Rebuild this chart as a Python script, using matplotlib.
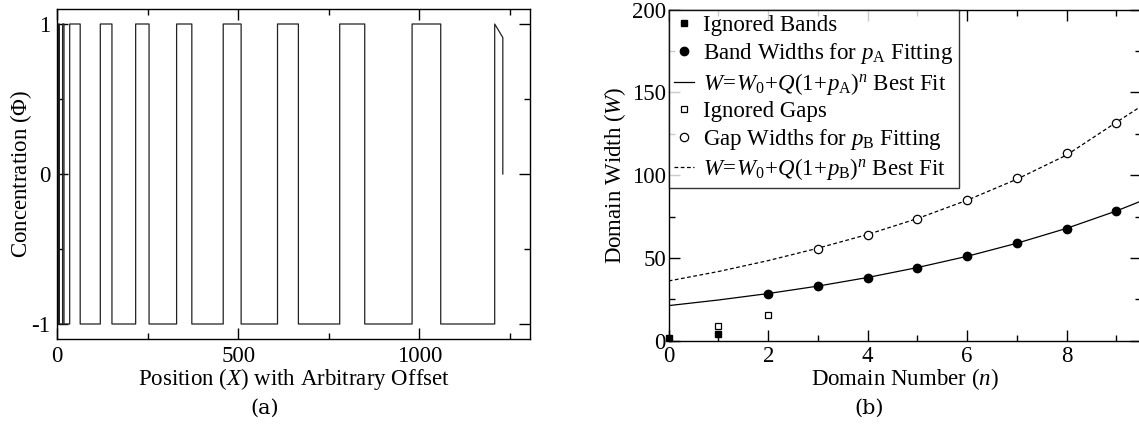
import matplotlib
matplotlib.use("Agg")
import matplotlib.pyplot as plt
from matplotlib.ticker import MultipleLocator

plt.rcParams['font.family'] = ['Liberation Serif', 'DejaVu Serif']
plt.rcParams['mathtext.fontset'] = 'custom'
plt.rcParams['mathtext.rm'] = 'Liberation Serif'
plt.rcParams['mathtext.it'] = 'Liberation Serif:italic'
plt.rcParams['axes.unicode_minus'] = False

# (a) concentration profile: bands where phi = 1
band_start = [4.5, 15.4, 35, 119.5, 217, 330, 458.6, 608.4, 780, 979.7]
band_end = [6.3, 19.3, 64, 151.6, 254, 372, 508, 666, 849, 1058.7]
tail_x = [1207.6, 1207.6, 1230, 1230]
tail_y = [-1, 1, 0.91, 0]

# (b) domain widths
ign_band_n = [0, 1]
ign_band_w = [1.8, 3.9]
band_n = [2, 3, 4, 5, 6, 7, 8, 9]
band_w = [28.4, 33.0, 38.1, 44.1, 51.0, 58.8, 67.7, 78.4]
ign_gap_n = [1, 2]
ign_gap_w = [9.1, 15.3]
gap_n = [3, 4, 5, 6, 7, 8, 9]
gap_w = [55.2, 63.9, 73.7, 85.0, 98.3, 113.4, 131.4]
fit_n = [0, 1, 2, 3, 4, 5, 6, 7, 8, 9, 9.5]
fit_a = [21.2, 24.6, 28.5, 33.0, 38.2, 44.2, 51.0, 58.9, 67.9, 78.4, 84.4]
fit_b = [36.1, 41.8, 48.4, 55.9, 64.2, 73.8, 84.9, 97.6, 112.2, 132.0, 141.7]

fs = 16.5

fig = plt.figure(figsize=(11.39, 4.32), dpi=100)
ax1 = fig.add_axes([57/1139, 1-339/432, 473/1139, 330/432])
ax2 = fig.add_axes([668.7/1139, 1-340.7/432, 472.6/1139, 331/432])

# build the step profile
xs, ys = [0], [-1]
for s, e in zip(band_start, band_end):
    xs += [s, s, e, e]
    ys += [-1, 1, 1, -1]
xs += tail_x
ys += tail_y
ax1.plot(xs, ys, color='#222222', lw=0.9)

ax1.set_xlim(0, 1305)
ax1.set_ylim(-1.1, 1.1)
ax1.xaxis.set_major_locator(MultipleLocator(500))
ax1.xaxis.set_minor_locator(MultipleLocator(250))
ax1.yaxis.set_major_locator(MultipleLocator(1))
ax1.yaxis.set_minor_locator(MultipleLocator(0.5))
ax1.set_xlabel('Position ($X$) with Arbitrary Offset', fontsize=fs, labelpad=-1)
ax1.set_ylabel('Concentration ($\\Phi$)', fontsize=fs, labelpad=-2)

ax2.plot(fit_n, fit_a, color='black', lw=0.9, label='$W\\!=\\!W_{\\mathit{0}}\\!+\\!Q(1\\!+\\!p_{\\mathrm{A}})^n$ Best Fit', zorder=2)
ax2.plot(fit_n, fit_b, color='black', lw=0.9, ls=(0, (3, 2)), label='$W\\!=\\!W_{\\mathit{0}}\\!+\\!Q(1\\!+\\!p_{\\mathrm{B}})^n$ Best Fit', zorder=2)
ax2.plot(ign_band_n, ign_band_w, 's', color='black', ms=5, clip_on=False, label='Ignored Bands', zorder=3)
ax2.plot(band_n, band_w, 'o', color='black', ms=6, label='Band Widths for $p_{\\mathrm{A}}$ Fitting', zorder=3)
ax2.plot(ign_gap_n, ign_gap_w, 's', mfc='white', mec='black', mew=0.9, ms=5, label='Ignored Gaps', zorder=3)
ax2.plot(gap_n, gap_w, 'o', mfc='white', mec='black', mew=0.9, ms=6, label='Gap Widths for $p_{\\mathrm{B}}$ Fitting', zorder=3)

ax2.set_xlim(0, 9.5)
ax2.set_ylim(0, 200)
ax2.xaxis.set_major_locator(MultipleLocator(2))
ax2.xaxis.set_minor_locator(MultipleLocator(1))
ax2.yaxis.set_major_locator(MultipleLocator(50))
ax2.yaxis.set_minor_locator(MultipleLocator(25))
ax2.set_xlabel('Domain Number ($n$)', fontsize=fs, labelpad=-0.5)
ax2.set_ylabel('Domain Width ($W$)', fontsize=fs, labelpad=2.5)

h, l = ax2.get_legend_handles_labels()
order = [2, 3, 0, 4, 5, 1]
leg = ax2.legend([h[i] for i in order], [l[i] for i in order], loc='upper left',
                 bbox_to_anchor=(0, 1), borderaxespad=0, fontsize=fs,
                 frameon=True, fancybox=False, handlelength=0.85, handletextpad=0.4,
                 labelspacing=0.2, borderpad=0.25, edgecolor='black')
leg.get_frame().set_linewidth(1.0)

for ax, p in ((ax1, 5), (ax2, 4)):
    ax.tick_params(which='both', direction='in', top=True, right=True, labelsize=fs, width=1.0)
    ax.tick_params(which='major', length=8, pad=p)
    ax.tick_params(which='minor', length=4.5)
    for sp in ax.spines.values():
        sp.set_linewidth(1.0)
ax2.tick_params(axis='y', pad=2)

fig.text(265/1139, 1-408/432, '(a)', ha='center', va='center', fontsize=15, family='DejaVu Serif')
fig.text(869/1139, 1-408/432, '(b)', ha='center', va='center', fontsize=15, family='DejaVu Serif')

fig.savefig('out.png', dpi=100)
